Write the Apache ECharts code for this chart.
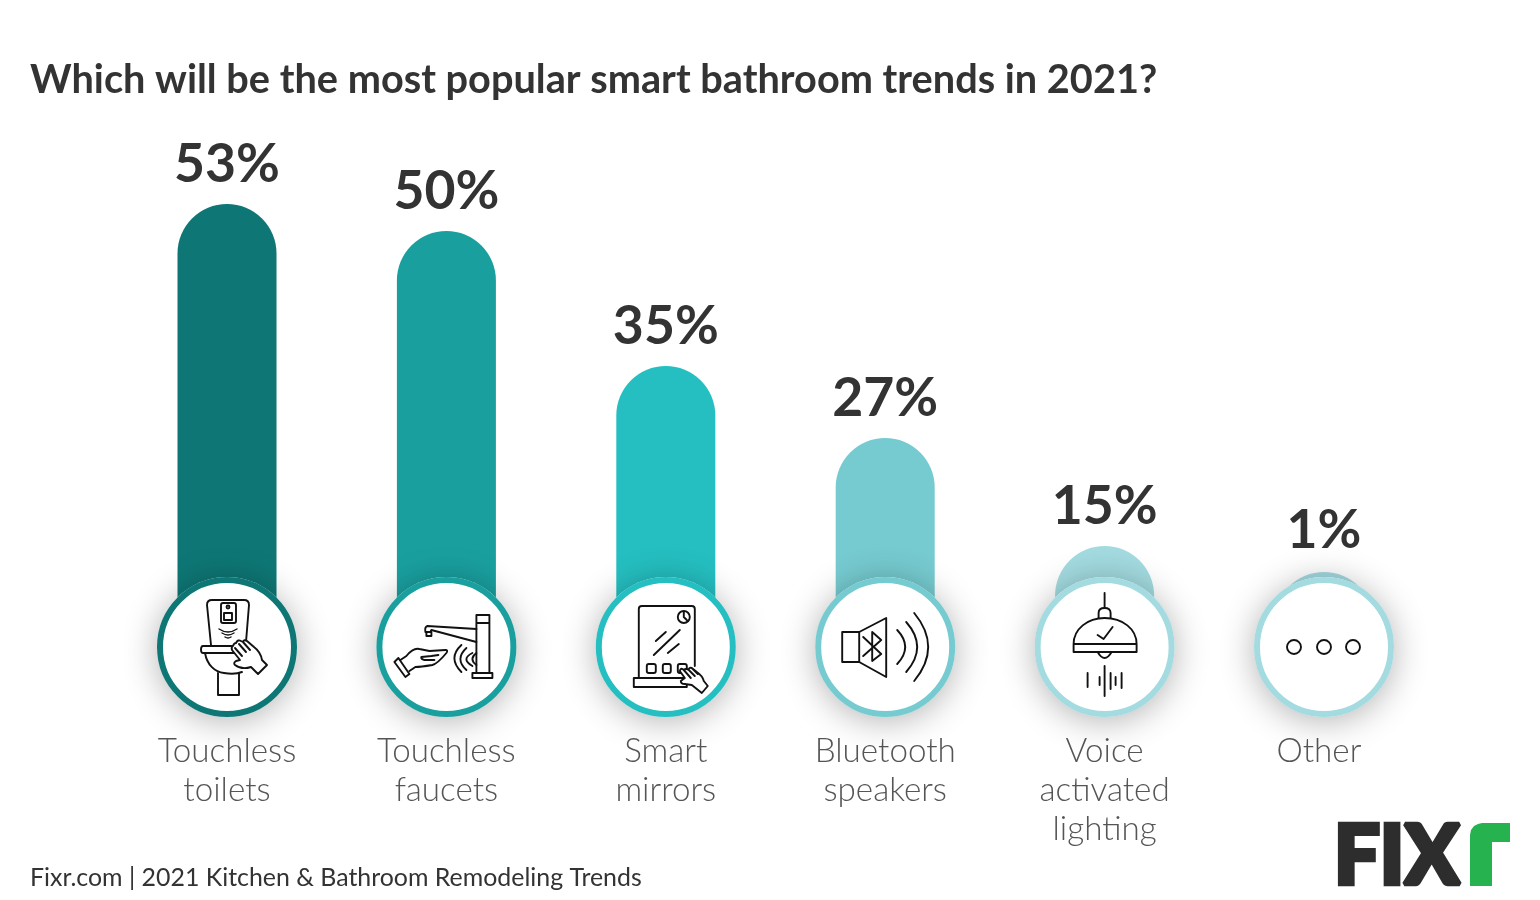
<!DOCTYPE html>
<html><head><meta charset="utf-8">
<style>html,body{margin:0;padding:0;background:#fff}#c{width:1540px;height:900px}</style>
<script src="https://cdn.jsdelivr.net/npm/echarts@6/dist/echarts.min.js"></script>
</head><body><div id="c"></div>
<script>
const categories = ['Touchless\ntoilets','Touchless\nfaucets','Smart\nmirrors','Bluetooth\nspeakers','Voice\nactivated\nlighting','Other'];
const percents = [53,50,35,27,15,1];
const colors = ['#0e7775','#1a9f9f','#25bfc1','#76cbd0','#a3dbe0','#a3dbe0'];
const titleText = 'Which will be the most popular smart bathroom trends in 2021?';
const sourceText = 'Fixr.com | 2021 Kitchen & Bathroom Remodeling Trends';

const hand = 'M31,27 L40,18 L35,13 C34,7 31,3 27,0 L20,-6 Q17,-8 16,-5 L14,-6 Q11,-8 9,-4 Q7,-4 6,-1 Q4,0 5,3 L13,13 L9,14 Q6,16 8,18 C12,21 18,22 24,20 Z M12,-3 L19,5 M8,1 L15,9 M16,-5 L23,3';
const icons = [
 [ // toilet
  'M-15,-47 H17 Q22,-47 22,-42 L19,-5 M-16,-2 L-20,-42 Q-20,-47 -15,-47',
  'M-4,-44 H7 Q9,-44 9,-42 V-26 Q9,-24 7,-24 H-4 Q-6,-24 -6,-26 V-42 Q-6,-44 -4,-44 Z',
  'M-0.5,-40 A1.5,1.5 0 1 1 2.5,-40 A1.5,1.5 0 1 1 -0.5,-40 Z M-3,-34 H5 V-27 H-3 Z',
  {d:'M-8,-18 Q1,-12 10,-18 M-5,-14 Q1,-10 7,-14 M-2,-10 Q1,-8 4,-10',lw:1.4},
  'M-24,-1 H12 V6 H-24 Q-26,6 -26,2.5 Q-26,-1 -24,-1 Z',
  'M-22,6 C-20,18 -12,25 -3,26 C3,27 10,27 15,25',
  'M-9,26 V48 H12 V26',
  {d:hand,fill:'#fff'}
 ],
 [ // faucet
  'M30,-32 H43 V26 H30 Z M30,-24 H43',
  'M26,26 H46 V31 H26 Z',
  'M30,-18 L-19,-21 Q-22,-20 -21,-15 H-16 L-15,-17 L30,-5',
  'M-20,-15 V-11 H-15 V-15',
  'M15,-2 Q1,11 15,25 M20,1 Q8,12 20,23 M26,6 Q14,12 26,19 M30,6 Q22,12 30,18',
  'M-52,15 L-48,11 L-37,27 L-41,30 Z',
  'M-46,13 L-40,9 C-36,4 -31,1 -27,2 L-17,4 L-1,3 Q2,3 0,6 C-5,12 -10,17 -14,18 C-20,19 -28,20 -31,20 L-37,24',
  'M-25,10 L-15,9 L-8,8 M-25,10 Q-26,12 -22,13 H-12'
 ],
 [ // mirror
  'M-27,31 V-38 Q-27,-41 -24,-41 H26 Q29,-41 29,-38 V19',
  'M24,-30 A6,6 0 1 1 12,-30 A6,6 0 1 1 24,-30 Z M18,-35 V-30 L21,-27',
  'M-12,8 L14,-17 M-10,-6 L0,-15 M2,6 L13,-3',
  'M-17,17 H-12 Q-10,17 -10,19 V24 Q-10,26 -12,26 H-17 Q-19,26 -19,24 V19 Q-19,17 -17,17 Z',
  'M-1,17 H3 Q5,17 5,19 V24 Q5,26 3,26 H-1 Q-3,26 -3,24 V19 Q-3,17 -1,17 Z',
  'M14,17 H19 Q21,17 21,19 V24 Q21,26 19,26 H14 Q12,26 12,24 V19 Q12,17 14,17 Z',
  'M-32,31 H21 V40 H-32 Z',
  {d:'M36,46 L42,39 L38,34 C37,30 34,27 31,25 L26,21 Q23,20 23,23 Q20,21 18,23 Q15,20 14,24 L19,31 L15,34 Q15,37 19,37 L26,38 Z M18,23 L25,31 M23,23 L29,29 M26,21 L32,27',fill:'#fff'}
 ],
 [ // speaker
  'M-43,-15 H-26 V15 H-43 Z',
  'M-26,-15 L1,-29 V30 L-26,15',
  'M-22,-10 L-4,7 L-13,14 V-15 L-4,-7 L-22,9',
  'M12,-17 Q28,0 12,17 M21,-25 Q43,0 21,25 M29,-34 Q57,0 29,34'
 ],
 [ // lamp
  'M0,-54 V-39',
  'M-6,-29 V-34 Q-6,-39 0,-39 Q6,-39 6,-34 V-29',
  'M-31,-3 C-31,-18 -17,-29 0,-29 C18,-29 32,-18 32,-3 V5 H-31 Z M-31,-3 H32',
  'M-7,5 Q0,17 7,5',
  'M-7,-12 L-1,-8 L8,-20',
  'M-17,26 V40 M-5,30 V38 M0,19 V49 M6,26 V42 M11,30 V38 M17,26 V41'
 ],
 [ // other
  'M-23,0 A7,7 0 1 1 -37,0 A7,7 0 1 1 -23,0 Z',
  'M7,0 A7,7 0 1 1 -7,0 A7,7 0 1 1 7,0 Z',
  'M36,0 A7,7 0 1 1 22,0 A7,7 0 1 1 36,0 Z'
 ]
];

const chart = echarts.init(document.getElementById('c'));
chart.setOption({
  animation:false,
  backgroundColor:'#fff',
  title:[
    {text:titleText,left:25,top:55,padding:5,textStyle:{fontFamily:'Lato',fontWeight:700,fontSize:39.7,color:'#333'}},
    {text:sourceText,left:25,top:860,padding:5,textStyle:{fontFamily:'Lato',fontWeight:400,fontSize:24.9,color:'#333'}}
  ],
  grid:{left:117.3,right:106.3,top:141,height:540},
  xAxis:{type:'category',data:categories,
    axisLine:{show:false},axisTick:{show:false},
    axisLabel:{interval:0,margin:50.5,fontFamily:'Lato',fontWeight:300,fontSize:33.2,lineHeight:39,color:'#555',
      formatter:v=>v==='Other'?'{o|Other}':v,
      rich:{o:{fontFamily:'Lato',fontWeight:300,fontSize:33.2,lineHeight:39,color:'#555',padding:[0,10,0,0]}}}},
  yAxis:{type:'value',min:0,max:60,show:false},
  series:[
    {type:'bar',barWidth:99,barMinHeight:109,z:2,
     data:percents.map((v,i)=>({value:v,itemStyle:{color:colors[i]},label:{distance:v<10?14:12}})),
     itemStyle:{borderRadius:[50,50,0,0]},
     label:{show:true,position:'top',distance:12,formatter:'{c}%',fontFamily:'Lato',fontWeight:700,fontSize:53.5,color:'#333'}},
    {type:'custom',z:5,silent:true,clip:false,
     data:percents.map((v,i)=>[i,0]),
     encode:{x:0,y:1},
     renderItem:(params,api)=>{
       const i=api.value(0), p=api.coord([i,0]);
       const children=[
         {type:'circle',shape:{cx:0,cy:0,r:70},style:{fill:'#fff',shadowBlur:34,shadowColor:'rgba(0,0,0,0.3)',shadowOffsetY:4}},
         {type:'circle',shape:{cx:0,cy:0,r:67},style:{fill:'#fff',stroke:colors[i],lineWidth:6}}
       ];
       icons[i].forEach(o=>{
         const isS=typeof o==='string', d=isS?o:o.d, fill=isS?'none':(o.fill||'none'), lw=isS?1.9:(o.lw||1.9);
         children.push({type:'path',shape:{pathData:d},style:{fill:fill,stroke:'#111',lineWidth:lw,lineJoin:'round',lineCap:'round'}});
       });
       return {type:'group',x:p[0],y:p[1]-34,children};
     }}
  ],
  graphic:[
    {type:'text',x:1334,y:817,z:10,style:{text:'FIX',fontFamily:'Lato',fontWeight:900,fontSize:81,fill:'#2d2d2d',stroke:'#2d2d2d',lineWidth:4.5}},
    {type:'polygon',z:10,shape:{points:[[1470,886],[1470,835],[1471,830],[1474,826],[1478,824],[1482,823],[1510,823],[1510,842],[1492,842],[1492,886]]},style:{fill:'#26b24f'}}
  ]
});
</script></body></html>
